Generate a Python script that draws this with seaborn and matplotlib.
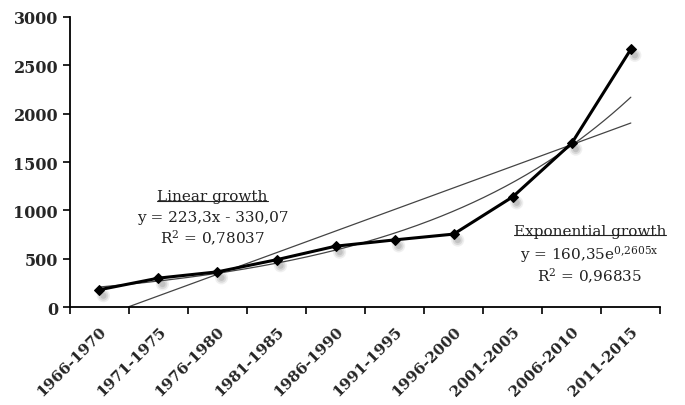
import numpy as np
import pandas as pd
import matplotlib
matplotlib.use("Agg")
import matplotlib.pyplot as plt
import matplotlib.transforms as mtransforms
import seaborn as sns

periods = ["1966-1970", "1971-1975", "1976-1980", "1981-1985", "1986-1990",
           "1991-1995", "1996-2000", "2001-2005", "2006-2010", "2011-2015"]
counts = [180, 300, 365, 490, 630, 695, 755, 1140, 1695, 2665]

# trendline coefficients as written on the chart
lin_a, lin_b = 223.3, -330.07
exp_a, exp_b = 160.35, 0.2605

sns.set_style("ticks")
plt.rcParams["font.family"] = ["DejaVu Serif"]
plt.rcParams["mathtext.default"] = "regular"

df = pd.DataFrame({"x": np.arange(1, len(periods) + 1), "y": counts})

fig = plt.figure(figsize=(6.85, 4.06), dpi=100)
ax = fig.add_axes([0.102, 0.241, 0.862, 0.715])

# trendlines
xs = np.linspace(1, 10, 200)
lin = lin_a * xs + lin_b
ax.plot(xs[lin >= 0], lin[lin >= 0], color="#444444", lw=0.9, zorder=2)
ax.plot(xs, exp_a * np.exp(exp_b * xs), color="#444444", lw=0.9, zorder=2)

# soft shadow under the markers
shadow = mtransforms.offset_copy(ax.transData, fig=fig, x=4, y=-6, units="dots")
for s, a in [(90, 0.15), (50, 0.25), (20, 0.35)]:
    ax.scatter(df["x"], df["y"], marker="o", s=s, color="#999999", alpha=a,
               edgecolor="none", transform=shadow, zorder=1)

sns.lineplot(data=df, x="x", y="y", ax=ax, color="black", lw=2.2,
             marker="D", markersize=5.5, markeredgecolor="black", zorder=3)

ax.set_xlim(0.5, 10.5)
ax.set_ylim(0, 3000)
ax.set_yticks(np.arange(0, 3001, 500))
ax.set_xticks(np.arange(0.5, 11, 1))
ax.set_xticklabels([])
ax.set_xticks(df["x"], minor=True)
ax.set_xticklabels(periods, minor=True, rotation=45, ha="right",
                   rotation_mode="anchor", fontweight="bold", fontsize=11)
ax.tick_params(axis="x", which="minor", length=0, pad=12)
ax.tick_params(axis="x", which="major", length=5, width=1.2, color="black")
ax.tick_params(axis="y", length=5, width=1.2, color="black", labelsize=11.5)
for lab in ax.get_yticklabels():
    lab.set_fontweight("bold")
ax.set_xlabel("")
ax.set_ylabel("")
sns.despine(ax=ax)
for s in ["left", "bottom"]:
    ax.spines[s].set_linewidth(1.3)
    ax.spines[s].set_color("black")


def label_block(x, ys, title, lines):
    t = ax.text(x, ys[0], title, transform=fig.transFigure, ha="center",
                va="baseline", fontsize=11, color="#222222")
    for yy, ln in zip(ys[1:], lines):
        ax.text(x, yy, ln, transform=fig.transFigure,
                ha="center", va="baseline", fontsize=11, color="#222222")
    return t


t1 = label_block(0.31, [0.505, 0.452, 0.400], "Linear growth",
                 [r"y = 223,3x - 330,07", r"R$^2$ = 0,78037"])
t2 = label_block(0.861, [0.419, 0.360, 0.306], "Exponential growth",
                 [r"y = 160,35e$^{0{,}2605x}$", r"R$^2$ = 0,96835"])

fig.canvas.draw()
r = fig.canvas.get_renderer()
for t in (t1, t2):
    bb = t.get_window_extent(r).transformed(fig.transFigure.inverted())
    fig.add_artist(plt.Line2D([bb.x0, bb.x1], [bb.y0 + 0.006, bb.y0 + 0.006],
                              transform=fig.transFigure, color="#222222", lw=0.8))

fig.savefig("out.png", dpi=100)
